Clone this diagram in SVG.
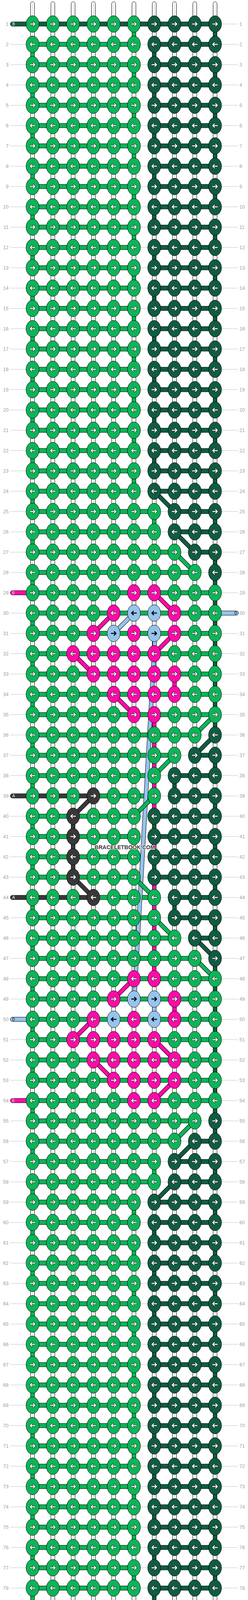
<svg xmlns="http://www.w3.org/2000/svg" width="636" height="4336" viewBox="0 0 636 4336">
<style>
.kL{fill:#0cb458;stroke:#000;stroke-width:1}
.kD{fill:#105c40;stroke:#000;stroke-width:1}
.kP{fill:#fe0aa8;stroke:#000;stroke-width:1}
.kB{fill:#96c4ec;stroke:#000;stroke-width:1}
.kG{fill:#383838;stroke:#000;stroke-width:1}
.ao{fill:none;stroke:#1a1a1a;stroke-width:4.2;stroke-linecap:round;stroke-linejoin:round}
.aw{fill:none;stroke:#fff;stroke-width:2.4;stroke-linecap:round;stroke-linejoin:round}
.ab{fill:none;stroke:#000;stroke-width:2.6;stroke-linecap:round;stroke-linejoin:round}
.cL{fill:#0cb458;stroke:#000;stroke-width:1}
.cD{fill:#105c40;stroke:#000;stroke-width:1}
.cP{fill:#fe0aa8;stroke:#000;stroke-width:1}
.cB{fill:#96c4ec;stroke:#000;stroke-width:1}
.cG{fill:#383838;stroke:#000;stroke-width:1}
.wp rect{fill:#fff;stroke:#000;stroke-width:1}
.do{fill:none;stroke:#000;stroke-width:11}
.sL{fill:none;stroke:#0cb458;stroke-width:9}
.sD{fill:none;stroke:#105c40;stroke-width:9}
.sP{fill:none;stroke:#fe0aa8;stroke-width:9}
.sB{fill:none;stroke:#96c4ec;stroke-width:9}
.sG{fill:none;stroke:#383838;stroke-width:9}
.lb{font-family:"Liberation Sans",Arial,sans-serif;font-size:12.5px;fill:#a0a0a0;text-anchor:end}
.rb{font-family:"Liberation Sans",Arial,sans-serif;font-size:12.5px;fill:#a0a0a0;text-anchor:start}
.sl{font-family:"Liberation Sans",Arial,sans-serif;font-size:10px;fill:#fff}
.sd{font-family:"Liberation Sans",Arial,sans-serif;font-size:10px;fill:#000}
.wm{font-family:"Liberation Sans",Arial,sans-serif;font-size:14px;font-weight:bold;fill:#3a3a3a;stroke:#fff;stroke-width:2.2;paint-order:stroke;text-anchor:middle}
</style>
<defs>
<path id="ar" d="M-6 0H5.5M1.5-4.5L6 0L1.5 4.5"/>
<path id="al" d="M6 0H-5.5M-1.5-4.5L-6 0L-1.5 4.5"/>
<ellipse id="e" rx="16.6" ry="21.2"/>
<g id="LR"><use href="#e" class="kL"/><use href="#ar" class="ao"/><use href="#ar" class="aw"/></g>
<g id="LL"><use href="#e" class="kL"/><use href="#al" class="ao"/><use href="#al" class="aw"/></g>
<g id="DR"><use href="#e" class="kD"/><use href="#ar" class="ao"/><use href="#ar" class="aw"/></g>
<g id="DL"><use href="#e" class="kD"/><use href="#al" class="ao"/><use href="#al" class="aw"/></g>
<g id="PR"><use href="#e" class="kP"/><use href="#ar" class="ao"/><use href="#ar" class="aw"/></g>
<g id="PL"><use href="#e" class="kP"/><use href="#al" class="ao"/><use href="#al" class="aw"/></g>
<g id="GR"><use href="#e" class="kG"/><use href="#ar" class="ao"/><use href="#ar" class="aw"/></g>
<g id="GL"><use href="#e" class="kG"/><use href="#al" class="ao"/><use href="#al" class="aw"/></g>
<g id="BR"><use href="#e" class="kB"/><use href="#ar" class="ab"/></g>
<g id="BL"><use href="#e" class="kB"/><use href="#al" class="ab"/></g>
<g id="kro"><use href="#LR" x="83.5"/><use href="#LR" x="135.5"/><use href="#LR" x="187.5"/><use href="#LR" x="239.5"/><use href="#LR" x="291.5"/><use href="#LR" x="343.5"/><use href="#DR" x="395.5"/><use href="#DR" x="447.5"/><use href="#DR" x="499.5"/><use href="#DR" x="551.5"/></g>
<g id="kre"><use href="#LL" x="83.5"/><use href="#LL" x="135.5"/><use href="#LL" x="187.5"/><use href="#LL" x="239.5"/><use href="#LL" x="291.5"/><use href="#LL" x="343.5"/><use href="#DL" x="395.5"/><use href="#DL" x="447.5"/><use href="#DL" x="499.5"/><use href="#DL" x="551.5"/></g>
<g id="k7R"><use href="#LR" x="83.5"/><use href="#LR" x="135.5"/><use href="#LR" x="187.5"/><use href="#LR" x="239.5"/><use href="#LR" x="291.5"/><use href="#LR" x="343.5"/><use href="#LR" x="395.5"/><use href="#DR" x="447.5"/><use href="#DR" x="499.5"/><use href="#DR" x="551.5"/></g>
<g id="k7L"><use href="#LL" x="83.5"/><use href="#LL" x="135.5"/><use href="#LL" x="187.5"/><use href="#LL" x="239.5"/><use href="#LL" x="291.5"/><use href="#LL" x="343.5"/><use href="#LL" x="395.5"/><use href="#DL" x="447.5"/><use href="#DL" x="499.5"/><use href="#DL" x="551.5"/></g>
<g id="k8R"><use href="#LR" x="83.5"/><use href="#LR" x="135.5"/><use href="#LR" x="187.5"/><use href="#LR" x="239.5"/><use href="#LR" x="291.5"/><use href="#LR" x="343.5"/><use href="#LR" x="395.5"/><use href="#LR" x="447.5"/><use href="#DR" x="499.5"/><use href="#DR" x="551.5"/></g>
<g id="k8L"><use href="#LL" x="83.5"/><use href="#LL" x="135.5"/><use href="#LL" x="187.5"/><use href="#LL" x="239.5"/><use href="#LL" x="291.5"/><use href="#LL" x="343.5"/><use href="#LL" x="395.5"/><use href="#LL" x="447.5"/><use href="#DL" x="499.5"/><use href="#DL" x="551.5"/></g>
<g id="k9R"><use href="#LR" x="83.5"/><use href="#LR" x="135.5"/><use href="#LR" x="187.5"/><use href="#LR" x="239.5"/><use href="#LR" x="291.5"/><use href="#LR" x="343.5"/><use href="#LR" x="395.5"/><use href="#LR" x="447.5"/><use href="#LR" x="499.5"/><use href="#DR" x="551.5"/></g>
<g id="k9L"><use href="#LL" x="83.5"/><use href="#LL" x="135.5"/><use href="#LL" x="187.5"/><use href="#LL" x="239.5"/><use href="#LL" x="291.5"/><use href="#LL" x="343.5"/><use href="#LL" x="395.5"/><use href="#LL" x="447.5"/><use href="#LL" x="499.5"/><use href="#DL" x="551.5"/></g>
<g id="kGR"><use href="#LR" x="83.5"/><use href="#LR" x="135.5"/><use href="#GR" x="187.5"/><use href="#LR" x="239.5"/><use href="#LR" x="291.5"/><use href="#LR" x="343.5"/><use href="#DR" x="395.5"/><use href="#DR" x="447.5"/><use href="#DR" x="499.5"/><use href="#DR" x="551.5"/></g>
<g id="kGL"><use href="#LL" x="83.5"/><use href="#LL" x="135.5"/><use href="#GL" x="187.5"/><use href="#LL" x="239.5"/><use href="#LL" x="291.5"/><use href="#LL" x="343.5"/><use href="#DL" x="395.5"/><use href="#DL" x="447.5"/><use href="#DL" x="499.5"/><use href="#DL" x="551.5"/></g>
<g id="kPR"><use href="#LR" x="83.5"/><use href="#LR" x="135.5"/><use href="#LR" x="187.5"/><use href="#LR" x="239.5"/><use href="#LR" x="291.5"/><use href="#PR" x="343.5"/><use href="#PR" x="395.5"/><use href="#LR" x="447.5"/><use href="#LR" x="499.5"/><use href="#LR" x="551.5"/></g>
<g id="kPL"><use href="#LL" x="83.5"/><use href="#LL" x="135.5"/><use href="#LL" x="187.5"/><use href="#LL" x="239.5"/><use href="#LL" x="291.5"/><use href="#PL" x="343.5"/><use href="#PL" x="395.5"/><use href="#LL" x="447.5"/><use href="#LL" x="499.5"/><use href="#LL" x="551.5"/></g>
<g id="h5"><rect x="83.5" y="-5.5" width="260" height="11" class="cL"/><rect x="395.5" y="-5.5" width="156" height="11" class="cD"/></g>
<g id="h6"><rect x="83.5" y="-5.5" width="312" height="11" class="cL"/><rect x="447.5" y="-5.5" width="104" height="11" class="cD"/></g>
<g id="h7"><rect x="83.5" y="-5.5" width="364" height="11" class="cL"/><rect x="499.5" y="-5.5" width="52" height="11" class="cD"/></g>
<g id="h8"><rect x="83.5" y="-5.5" width="416" height="11" class="cL"/></g>
<g id="hL"><rect x="83.5" y="-5.5" width="468" height="11" class="cL"/></g>
<g id="hB"><rect x="26.5" y="-5.5" width="525" height="11" rx="5.5" class="cD"/></g>
<g id="hG"><rect x="26.5" y="-5.5" width="213" height="11" rx="5.5" class="cG"/><rect x="239.5" y="-5.5" width="156" height="11" class="cL"/><rect x="447.5" y="-5.5" width="104" height="11" class="cD"/></g>
<rect id="v1L" x="78.5" width="10" height="52" class="cL"/>
<rect id="v6L" x="338.5" width="10" height="52" class="cL"/>
<rect id="v7L" x="390.5" width="10" height="52" class="cL"/>
<rect id="v7D" x="390.5" width="10" height="52" class="cD"/>
<rect id="v7P" x="390.5" width="10" height="52" class="cP"/>
<rect id="v7B" x="390.5" width="10" height="52" class="cB"/>
<rect id="v8D" x="442.5" width="10" height="52" class="cD"/>
<rect id="v8P" x="442.5" width="10" height="52" class="cP"/>
<rect id="v3G" x="182.5" width="10" height="52" class="cG"/>
<rect id="v10D" x="546.5" width="10" height="52" class="cD"/>
<g id="vo"><use href="#v6L"/><use href="#v10D"/></g>
<g id="ve"><use href="#v1L"/><use href="#v7D"/></g>
<path id="dgD" d="M395.5 1257.5L447.5 1309.5M447.5 1361.5L499.5 1413.5M551.5 1881.5L499.5 1933.5M499.5 2401.5L551.5 2453.5M499.5 2921.5L447.5 2973.5M447.5 3025.5L395.5 3077.5"/>
<path id="dgL" d="M447.5 1413.5L499.5 1465.5M551.5 1829.5L499.5 1881.5M447.5 1933.5L395.5 1985.5M395.5 2037.5L343.5 2089.5M343.5 2245.5L395.5 2297.5M395.5 2349.5L447.5 2401.5M499.5 2453.5L551.5 2505.5M499.5 2869.5L447.5 2921.5"/>
<path id="dgP" d="M395.5 1517.5L447.5 1569.5M291.5 1569.5L239.5 1621.5M447.5 1621.5L395.5 1673.5M187.5 1673.5L239.5 1725.5M291.5 1777.5L343.5 1829.5M343.5 2505.5L291.5 2557.5M239.5 2609.5L187.5 2661.5M395.5 2661.5L447.5 2713.5M239.5 2713.5L291.5 2765.5M447.5 2765.5L395.5 2817.5"/>
<path id="dgB" d="M343.5 1569.5L291.5 1621.5"/>
<path id="dgG" d="M239.5 2037.5L187.5 2089.5M187.5 2245.5L239.5 2297.5"/>
<path id="bandp" d="M398 1622L344.5 2556"/>
</defs>
<rect width="636" height="4336" fill="#fff"/>
<g id="guides">
<path fill="none" stroke="#c4c4c4" stroke-width="1" d="M26.5 61.5h583.5m-583.5 52h583.5m-583.5 52h583.5m-583.5 52h583.5m-583.5 52h583.5m-583.5 52h583.5m-583.5 52h583.5m-583.5 52h583.5m-583.5 52h583.5m-583.5 52h583.5
m-583.5 52h583.5m-583.5 52h583.5m-583.5 52h583.5m-583.5 52h583.5m-583.5 52h583.5m-583.5 52h583.5m-583.5 52h583.5m-583.5 52h583.5m-583.5 52h583.5m-583.5 52h583.5
m-583.5 52h583.5m-583.5 52h583.5m-583.5 52h583.5m-583.5 52h583.5m-583.5 52h583.5m-583.5 52h583.5m-583.5 52h583.5m-583.5 52h583.5m-583.5 52h583.5m-583.5 52h583.5
m-583.5 52h583.5m-583.5 52h583.5m-583.5 52h583.5m-583.5 52h583.5m-583.5 52h583.5m-583.5 52h583.5m-583.5 52h583.5m-583.5 52h583.5m-583.5 52h583.5m-583.5 52h583.5
m-583.5 52h583.5m-583.5 52h583.5m-583.5 52h583.5m-583.5 52h583.5m-583.5 52h583.5m-583.5 52h583.5m-583.5 52h583.5m-583.5 52h583.5m-583.5 52h583.5m-583.5 52h583.5
m-583.5 52h583.5m-583.5 52h583.5m-583.5 52h583.5m-583.5 52h583.5m-583.5 52h583.5m-583.5 52h583.5m-583.5 52h583.5m-583.5 52h583.5m-583.5 52h583.5m-583.5 52h583.5
m-583.5 52h583.5m-583.5 52h583.5m-583.5 52h583.5m-583.5 52h583.5m-583.5 52h583.5m-583.5 52h583.5m-583.5 52h583.5m-583.5 52h583.5m-583.5 52h583.5m-583.5 52h583.5
m-583.5 52h583.5m-583.5 52h583.5m-583.5 52h583.5m-583.5 52h583.5m-583.5 52h583.5m-583.5 52h583.5m-583.5 52h583.5m-583.5 52h583.5m-583.5 52h583.5m-583.5 52h583.5
m-583.5 52h583.5"/>
<g class="lb">
<text x="22" y="66">1</text><text x="22" y="118">2</text><text x="22" y="170">3</text><text x="22" y="222">4</text><text x="22" y="274">5</text><text x="22" y="326">6</text><text x="22" y="378">7</text><text x="22" y="430">8</text><text x="22" y="482">9</text><text x="22" y="534">10</text>
<text x="22" y="586">11</text><text x="22" y="638">12</text><text x="22" y="690">13</text><text x="22" y="742">14</text><text x="22" y="794">15</text><text x="22" y="846">16</text><text x="22" y="898">17</text><text x="22" y="950">18</text><text x="22" y="1002">19</text><text x="22" y="1054">20</text>
<text x="22" y="1106">21</text><text x="22" y="1158">22</text><text x="22" y="1210">23</text><text x="22" y="1262">24</text><text x="22" y="1314">25</text><text x="22" y="1366">26</text><text x="22" y="1418">27</text><text x="22" y="1470">28</text><text x="22" y="1522">29</text><text x="22" y="1574">30</text>
<text x="22" y="1626">31</text><text x="22" y="1678">32</text><text x="22" y="1730">33</text><text x="22" y="1782">34</text><text x="22" y="1834">35</text><text x="22" y="1886">36</text><text x="22" y="1938">37</text><text x="22" y="1990">38</text><text x="22" y="2042">39</text><text x="22" y="2094">40</text>
<text x="22" y="2146">41</text><text x="22" y="2198">42</text><text x="22" y="2250">43</text><text x="22" y="2302">44</text><text x="22" y="2354">45</text><text x="22" y="2406">46</text><text x="22" y="2458">47</text><text x="22" y="2510">48</text><text x="22" y="2562">49</text><text x="22" y="2614">50</text>
<text x="22" y="2666">51</text><text x="22" y="2718">52</text><text x="22" y="2770">53</text><text x="22" y="2822">54</text><text x="22" y="2874">55</text><text x="22" y="2926">56</text><text x="22" y="2978">57</text><text x="22" y="3030">58</text><text x="22" y="3082">59</text><text x="22" y="3134">60</text>
<text x="22" y="3186">61</text><text x="22" y="3238">62</text><text x="22" y="3290">63</text><text x="22" y="3342">64</text><text x="22" y="3394">65</text><text x="22" y="3446">66</text><text x="22" y="3498">67</text><text x="22" y="3550">68</text><text x="22" y="3602">69</text><text x="22" y="3654">70</text>
<text x="22" y="3706">71</text><text x="22" y="3758">72</text><text x="22" y="3810">73</text><text x="22" y="3862">74</text><text x="22" y="3914">75</text><text x="22" y="3966">76</text><text x="22" y="4018">77</text><text x="22" y="4070">78</text><text x="22" y="4122">79</text><text x="22" y="4174">80</text>
<text x="22" y="4226">81</text><text x="22" y="4278">82</text>
</g>
<g class="rb">
<text x="614" y="66">1</text><text x="614" y="118">2</text><text x="614" y="170">3</text><text x="614" y="222">4</text><text x="614" y="274">5</text><text x="614" y="326">6</text><text x="614" y="378">7</text><text x="614" y="430">8</text><text x="614" y="482">9</text><text x="614" y="534">10</text>
<text x="614" y="586">11</text><text x="614" y="638">12</text><text x="614" y="690">13</text><text x="614" y="742">14</text><text x="614" y="794">15</text><text x="614" y="846">16</text><text x="614" y="898">17</text><text x="614" y="950">18</text><text x="614" y="1002">19</text><text x="614" y="1054">20</text>
<text x="614" y="1106">21</text><text x="614" y="1158">22</text><text x="614" y="1210">23</text><text x="614" y="1262">24</text><text x="614" y="1314">25</text><text x="614" y="1366">26</text><text x="614" y="1418">27</text><text x="614" y="1470">28</text><text x="614" y="1522">29</text><text x="614" y="1574">30</text>
<text x="614" y="1626">31</text><text x="614" y="1678">32</text><text x="614" y="1730">33</text><text x="614" y="1782">34</text><text x="614" y="1834">35</text><text x="614" y="1886">36</text><text x="614" y="1938">37</text><text x="614" y="1990">38</text><text x="614" y="2042">39</text><text x="614" y="2094">40</text>
<text x="614" y="2146">41</text><text x="614" y="2198">42</text><text x="614" y="2250">43</text><text x="614" y="2302">44</text><text x="614" y="2354">45</text><text x="614" y="2406">46</text><text x="614" y="2458">47</text><text x="614" y="2510">48</text><text x="614" y="2562">49</text><text x="614" y="2614">50</text>
<text x="614" y="2666">51</text><text x="614" y="2718">52</text><text x="614" y="2770">53</text><text x="614" y="2822">54</text><text x="614" y="2874">55</text><text x="614" y="2926">56</text><text x="614" y="2978">57</text><text x="614" y="3030">58</text><text x="614" y="3082">59</text><text x="614" y="3134">60</text>
<text x="614" y="3186">61</text><text x="614" y="3238">62</text><text x="614" y="3290">63</text><text x="614" y="3342">64</text><text x="614" y="3394">65</text><text x="614" y="3446">66</text><text x="614" y="3498">67</text><text x="614" y="3550">68</text><text x="614" y="3602">69</text><text x="614" y="3654">70</text>
<text x="614" y="3706">71</text><text x="614" y="3758">72</text><text x="614" y="3810">73</text><text x="614" y="3862">74</text><text x="614" y="3914">75</text><text x="614" y="3966">76</text><text x="614" y="4018">77</text><text x="614" y="4070">78</text><text x="614" y="4122">79</text><text x="614" y="4174">80</text>
<text x="614" y="4226">81</text><text x="614" y="4278">82</text>
</g>
</g>
<g id="warps" class="wp">
<rect x="78.5" y="4.5" width="10" height="4327" rx="5"/><rect x="130.5" y="4.5" width="10" height="4327" rx="5"/><rect x="182.5" y="4.5" width="10" height="4327" rx="5"/><rect x="234.5" y="4.5" width="10" height="4327" rx="5"/><rect x="286.5" y="4.5" width="10" height="4327" rx="5"/><rect x="338.5" y="4.5" width="10" height="4327" rx="5"/><rect x="390.5" y="4.5" width="10" height="4327" rx="5"/><rect x="442.5" y="4.5" width="10" height="4327" rx="5"/><rect x="494.5" y="4.5" width="10" height="4327" rx="5"/><rect x="546.5" y="4.5" width="10" height="4327" rx="5"/>
<path fill="none" stroke="#c8c8c8" stroke-width="1.2" d="M84 9V4327M136 9V4327M188 9V4327M240 9V4327M292 9V4327M344 9V4327M396 9V4327M448 9V4327M500 9V4327M552 9V4327"/>
</g>
<g id="connectors">
<g id="verticals">
<use href="#vo" y="61.5"/><use href="#ve" y="113.5"/><use href="#vo" y="165.5"/><use href="#ve" y="217.5"/><use href="#vo" y="269.5"/><use href="#ve" y="321.5"/><use href="#vo" y="373.5"/><use href="#ve" y="425.5"/><use href="#vo" y="477.5"/><use href="#ve" y="529.5"/><use href="#vo" y="581.5"/><use href="#ve" y="633.5"/><use href="#vo" y="685.5"/><use href="#ve" y="737.5"/><use href="#vo" y="789.5"/><use href="#ve" y="841.5"/><use href="#vo" y="893.5"/><use href="#ve" y="945.5"/><use href="#vo" y="997.5"/><use href="#ve" y="1049.5"/><use href="#vo" y="1101.5"/><use href="#ve" y="1153.5"/><use href="#vo" y="1205.5"/>
<use href="#v1L" y="1257.5"/>
<use href="#v7L" y="1309.5"/><use href="#v10D" y="1309.5"/>
<use href="#v1L" y="1361.5"/>
<use href="#v10D" y="1413.5"/>
<use href="#v1L" y="1465.5"/><use href="#v10D" y="1465.5"/>
<use href="#v10D" y="1517.5"/>
<use href="#v1L" y="1569.5"/><use href="#v10D" y="1569.5"/>
<use href="#v10D" y="1621.5"/>
<use href="#v1L" y="1673.5"/><use href="#v10D" y="1673.5"/>
<use href="#v8P" y="1725.5"/><use href="#v10D" y="1725.5"/>
<use href="#v1L" y="1777.5"/><use href="#v10D" y="1777.5"/>
<use href="#v7P" y="1829.5"/><use href="#v10D" y="1829.5"/>
<use href="#v1L" y="1881.5"/><use href="#v7P" y="1881.5"/>
<use href="#v7P" y="1933.5"/><use href="#v10D" y="1933.5"/>
<use href="#v1L" y="1985.5"/><use href="#v7P" y="1985.5"/><use href="#v8D" y="1985.5"/>
<use href="#v7P" y="2037.5"/><use href="#v10D" y="2037.5"/>
<use href="#v1L" y="2089.5"/><use href="#v3G" y="2089.5"/><use href="#v7D" y="2089.5"/>
<use href="#v3G" y="2141.5"/><use href="#v7P" y="2141.5"/><use href="#v10D" y="2141.5"/>
<use href="#v1L" y="2193.5"/><use href="#v3G" y="2193.5"/><use href="#v7D" y="2193.5"/>
<use href="#v7P" y="2245.5"/><use href="#v10D" y="2245.5"/>
<use href="#v1L" y="2297.5"/><use href="#v7P" y="2297.5"/><use href="#v8D" y="2297.5"/>
<use href="#v7P" y="2349.5"/><use href="#v10D" y="2349.5"/>
<use href="#v1L" y="2401.5"/><use href="#v7P" y="2401.5"/>
<use href="#v7P" y="2453.5"/><use href="#v10D" y="2453.5"/>
<use href="#v1L" y="2505.5"/><use href="#v10D" y="2505.5"/>
<use href="#v7B" y="2557.5"/><use href="#v8P" y="2557.5"/><use href="#v10D" y="2557.5"/>
<use href="#v1L" y="2609.5"/><use href="#v10D" y="2609.5"/>
<use href="#v10D" y="2661.5"/>
<use href="#v1L" y="2713.5"/><use href="#v10D" y="2713.5"/>
<use href="#v10D" y="2765.5"/>
<use href="#v1L" y="2817.5"/><use href="#v10D" y="2817.5"/>
<use href="#v10D" y="2869.5"/>
<use href="#v1L" y="2921.5"/>
<use href="#v7L" y="2973.5"/><use href="#v10D" y="2973.5"/>
<use href="#v1L" y="3025.5"/>
<use href="#vo" y="3077.5"/><use href="#ve" y="3129.5"/><use href="#vo" y="3181.5"/><use href="#ve" y="3233.5"/><use href="#vo" y="3285.5"/><use href="#ve" y="3337.5"/><use href="#vo" y="3389.5"/><use href="#ve" y="3441.5"/><use href="#vo" y="3493.5"/><use href="#ve" y="3545.5"/><use href="#vo" y="3597.5"/><use href="#ve" y="3649.5"/><use href="#vo" y="3701.5"/><use href="#ve" y="3753.5"/><use href="#vo" y="3805.5"/><use href="#ve" y="3857.5"/><use href="#vo" y="3909.5"/><use href="#ve" y="3961.5"/><use href="#vo" y="4013.5"/><use href="#ve" y="4065.5"/><use href="#vo" y="4117.5"/><use href="#ve" y="4169.5"/><use href="#vo" y="4221.5"/>
</g>
<g id="horizontals">
<use href="#hB" y="61.5"/>
<use href="#h5" y="113.5"/><use href="#h5" y="165.5"/><use href="#h5" y="217.5"/><use href="#h5" y="269.5"/><use href="#h5" y="321.5"/><use href="#h5" y="373.5"/><use href="#h5" y="425.5"/><use href="#h5" y="477.5"/><use href="#h5" y="529.5"/><use href="#h5" y="581.5"/><use href="#h5" y="633.5"/><use href="#h5" y="685.5"/><use href="#h5" y="737.5"/><use href="#h5" y="789.5"/><use href="#h5" y="841.5"/><use href="#h5" y="893.5"/><use href="#h5" y="945.5"/><use href="#h5" y="997.5"/><use href="#h5" y="1049.5"/><use href="#h5" y="1101.5"/><use href="#h5" y="1153.5"/><use href="#h5" y="1205.5"/><use href="#h5" y="1257.5"/>
<use href="#h6" y="1309.5"/><use href="#h6" y="1361.5"/><use href="#h7" y="1413.5"/><use href="#h8" y="1465.5"/>
<use href="#hL" y="1517.5"/><use href="#hL" y="1569.5"/><use href="#hL" y="1621.5"/><use href="#hL" y="1673.5"/><use href="#hL" y="1725.5"/><use href="#hL" y="1777.5"/><use href="#hL" y="1829.5"/>
<use href="#h8" y="1881.5"/><use href="#h7" y="1933.5"/><use href="#h6" y="1985.5"/><use href="#hG" y="2037.5"/>
<use href="#h5" y="2089.5"/><use href="#h5" y="2141.5"/><use href="#h5" y="2193.5"/><use href="#h5" y="2245.5"/>
<use href="#hG" y="2297.5"/><use href="#h6" y="2349.5"/><use href="#h7" y="2401.5"/><use href="#h8" y="2453.5"/>
<use href="#hL" y="2505.5"/><use href="#hL" y="2557.5"/><use href="#hL" y="2609.5"/><use href="#hL" y="2661.5"/><use href="#hL" y="2713.5"/><use href="#hL" y="2765.5"/><use href="#hL" y="2817.5"/>
<use href="#h8" y="2869.5"/><use href="#h7" y="2921.5"/><use href="#h6" y="2973.5"/><use href="#h6" y="3025.5"/>
<use href="#h5" y="3077.5"/><use href="#h5" y="3129.5"/><use href="#h5" y="3181.5"/><use href="#h5" y="3233.5"/><use href="#h5" y="3285.5"/><use href="#h5" y="3337.5"/><use href="#h5" y="3389.5"/><use href="#h5" y="3441.5"/><use href="#h5" y="3493.5"/><use href="#h5" y="3545.5"/><use href="#h5" y="3597.5"/><use href="#h5" y="3649.5"/><use href="#h5" y="3701.5"/><use href="#h5" y="3753.5"/><use href="#h5" y="3805.5"/><use href="#h5" y="3857.5"/><use href="#h5" y="3909.5"/><use href="#h5" y="3961.5"/><use href="#h5" y="4013.5"/><use href="#h5" y="4065.5"/><use href="#h5" y="4117.5"/><use href="#h5" y="4169.5"/><use href="#h5" y="4221.5"/>
<use href="#hB" y="4273.5"/>
</g>
<g id="band"><use href="#bandp" class="do"/><use href="#bandp" class="sB"/></g>
<g id="diagonals">
<use href="#dgD" class="do"/><use href="#dgD" class="sD"/>
<use href="#dgL" class="do"/><use href="#dgL" class="sL"/>
<use href="#dgP" class="do"/><use href="#dgP" class="sP"/>
<use href="#dgB" class="do"/><use href="#dgB" class="sB"/>
<use href="#dgG" class="do"/><use href="#dgG" class="sG"/>
</g>
<g id="stubs">
<rect x="26.5" y="1512" width="57" height="11" rx="5.5" class="cP"/>
<rect x="551.5" y="1564" width="60" height="11" rx="5.5" class="cB"/>
<rect x="26.5" y="2604" width="57" height="11" rx="5.5" class="cB"/>
<rect x="26.5" y="2812" width="57" height="11" rx="5.5" class="cP"/>
<text class="sl" x="31.5" y="65.2">B</text>
<text class="sl" x="31.5" y="1521.2">E</text>
<text class="sd" x="601" y="1573.2">D</text>
<text class="sl" x="31.5" y="2041.2">A</text>
<text class="sl" x="31.5" y="2301.2">A</text>
<text class="sd" x="31" y="2613.2">D</text>
<text class="sl" x="31.5" y="2821.2">E</text>
<text class="sl" x="31.5" y="4277.2">B</text>
</g>
</g>
<g id="knots">
<use id="row-1" href="#kro" y="61.5"/><use id="row-2" href="#kre" y="113.5"/><use id="row-3" href="#kro" y="165.5"/><use id="row-4" href="#kre" y="217.5"/><use id="row-5" href="#kro" y="269.5"/><use id="row-6" href="#kre" y="321.5"/><use id="row-7" href="#kro" y="373.5"/><use id="row-8" href="#kre" y="425.5"/><use id="row-9" href="#kro" y="477.5"/><use id="row-10" href="#kre" y="529.5"/>
<use id="row-11" href="#kro" y="581.5"/><use id="row-12" href="#kre" y="633.5"/><use id="row-13" href="#kro" y="685.5"/><use id="row-14" href="#kre" y="737.5"/><use id="row-15" href="#kro" y="789.5"/><use id="row-16" href="#kre" y="841.5"/><use id="row-17" href="#kro" y="893.5"/><use id="row-18" href="#kre" y="945.5"/><use id="row-19" href="#kro" y="997.5"/><use id="row-20" href="#kre" y="1049.5"/>
<use id="row-21" href="#kro" y="1101.5"/><use id="row-22" href="#kre" y="1153.5"/><use id="row-23" href="#kro" y="1205.5"/><use id="row-24" href="#kre" y="1257.5"/>
<use id="row-25" href="#k7R" y="1309.5"/><use id="row-26" href="#k7L" y="1361.5"/><use id="row-27" href="#k8R" y="1413.5"/><use id="row-28" href="#k9L" y="1465.5"/>
<use id="row-29" href="#kPR" y="1517.5"/>
<g id="row-30" transform="translate(0 1569.5)"><use href="#LL" x="83.5"/><use href="#LL" x="135.5"/><use href="#LL" x="187.5"/><use href="#LL" x="239.5"/><use href="#PL" x="291.5"/><use href="#BL" x="343.5"/><use href="#BL" x="395.5"/><use href="#PL" x="447.5"/><use href="#LL" x="499.5"/><use href="#LL" x="551.5"/></g>
<g id="row-31" transform="translate(0 1621.5)"><use href="#LR" x="83.5"/><use href="#LR" x="135.5"/><use href="#LR" x="187.5"/><use href="#PR" x="239.5"/><use href="#BR" x="291.5"/><use href="#PR" x="343.5"/><use href="#BR" x="395.5"/><use href="#PR" x="447.5"/><use href="#LR" x="499.5"/><use href="#LR" x="551.5"/></g>
<g id="row-32" transform="translate(0 1673.5)"><use href="#LL" x="83.5"/><use href="#LL" x="135.5"/><use href="#PL" x="187.5"/><use href="#PL" x="239.5"/><use href="#PL" x="291.5"/><use href="#PL" x="343.5"/><use href="#PL" x="395.5"/><use href="#LL" x="447.5"/><use href="#LL" x="499.5"/><use href="#LL" x="551.5"/></g>
<g id="row-33" transform="translate(0 1725.5)"><use href="#LR" x="83.5"/><use href="#LR" x="135.5"/><use href="#LR" x="187.5"/><use href="#PR" x="239.5"/><use href="#PR" x="291.5"/><use href="#PR" x="343.5"/><use href="#PR" x="395.5"/><use href="#PR" x="447.5"/><use href="#LR" x="499.5"/><use href="#LR" x="551.5"/></g>
<g id="row-34" transform="translate(0 1777.5)"><use href="#LL" x="83.5"/><use href="#LL" x="135.5"/><use href="#LL" x="187.5"/><use href="#LL" x="239.5"/><use href="#PL" x="291.5"/><use href="#PL" x="343.5"/><use href="#PL" x="395.5"/><use href="#PL" x="447.5"/><use href="#LL" x="499.5"/><use href="#LL" x="551.5"/></g>
<use id="row-35" href="#kPR" y="1829.5"/>
<use id="row-36" href="#k9L" y="1881.5"/><use id="row-37" href="#k8R" y="1933.5"/><use id="row-38" href="#k7L" y="1985.5"/>
<g id="row-39" transform="translate(0 2037.5)"><use href="#LR" x="83.5"/><use href="#LR" x="135.5"/><use href="#LR" x="187.5"/><use href="#GR" x="239.5"/><use href="#LR" x="291.5"/><use href="#LR" x="343.5"/><use href="#LR" x="395.5"/><use href="#DR" x="447.5"/><use href="#DR" x="499.5"/><use href="#DR" x="551.5"/></g>
<use id="row-40" href="#kGL" y="2089.5"/><use id="row-41" href="#kGR" y="2141.5"/><use id="row-42" href="#kGL" y="2193.5"/><use id="row-43" href="#kGR" y="2245.5"/>
<g id="row-44" transform="translate(0 2297.5)"><use href="#LL" x="83.5"/><use href="#LL" x="135.5"/><use href="#LL" x="187.5"/><use href="#GL" x="239.5"/><use href="#LL" x="291.5"/><use href="#LL" x="343.5"/><use href="#LL" x="395.5"/><use href="#DL" x="447.5"/><use href="#DL" x="499.5"/><use href="#DL" x="551.5"/></g>
<use id="row-45" href="#k7R" y="2349.5"/><use id="row-46" href="#k8L" y="2401.5"/><use id="row-47" href="#k9R" y="2453.5"/>
<use id="row-48" href="#kPL" y="2505.5"/>
<g id="row-49" transform="translate(0 2557.5)"><use href="#LR" x="83.5"/><use href="#LR" x="135.5"/><use href="#LR" x="187.5"/><use href="#LR" x="239.5"/><use href="#PR" x="291.5"/><use href="#BR" x="343.5"/><use href="#BR" x="395.5"/><use href="#PR" x="447.5"/><use href="#LR" x="499.5"/><use href="#LR" x="551.5"/></g>
<g id="row-50" transform="translate(0 2609.5)"><use href="#LL" x="83.5"/><use href="#LL" x="135.5"/><use href="#LL" x="187.5"/><use href="#PL" x="239.5"/><use href="#BL" x="291.5"/><use href="#PL" x="343.5"/><use href="#BL" x="395.5"/><use href="#PL" x="447.5"/><use href="#LL" x="499.5"/><use href="#LL" x="551.5"/></g>
<g id="row-51" transform="translate(0 2661.5)"><use href="#LR" x="83.5"/><use href="#LR" x="135.5"/><use href="#PR" x="187.5"/><use href="#PR" x="239.5"/><use href="#PR" x="291.5"/><use href="#PR" x="343.5"/><use href="#PR" x="395.5"/><use href="#LR" x="447.5"/><use href="#LR" x="499.5"/><use href="#LR" x="551.5"/></g>
<g id="row-52" transform="translate(0 2713.5)"><use href="#LL" x="83.5"/><use href="#LL" x="135.5"/><use href="#LL" x="187.5"/><use href="#PL" x="239.5"/><use href="#PL" x="291.5"/><use href="#PL" x="343.5"/><use href="#PL" x="395.5"/><use href="#PL" x="447.5"/><use href="#LL" x="499.5"/><use href="#LL" x="551.5"/></g>
<g id="row-53" transform="translate(0 2765.5)"><use href="#LR" x="83.5"/><use href="#LR" x="135.5"/><use href="#LR" x="187.5"/><use href="#LR" x="239.5"/><use href="#PR" x="291.5"/><use href="#PR" x="343.5"/><use href="#PR" x="395.5"/><use href="#PR" x="447.5"/><use href="#LR" x="499.5"/><use href="#LR" x="551.5"/></g>
<use id="row-54" href="#kPL" y="2817.5"/>
<use id="row-55" href="#k9R" y="2869.5"/><use id="row-56" href="#k8L" y="2921.5"/><use id="row-57" href="#k7R" y="2973.5"/><use id="row-58" href="#k7L" y="3025.5"/>
<use id="row-59" href="#kro" y="3077.5"/><use id="row-60" href="#kre" y="3129.5"/>
<use id="row-61" href="#kro" y="3181.5"/><use id="row-62" href="#kre" y="3233.5"/><use id="row-63" href="#kro" y="3285.5"/><use id="row-64" href="#kre" y="3337.5"/><use id="row-65" href="#kro" y="3389.5"/><use id="row-66" href="#kre" y="3441.5"/><use id="row-67" href="#kro" y="3493.5"/><use id="row-68" href="#kre" y="3545.5"/><use id="row-69" href="#kro" y="3597.5"/><use id="row-70" href="#kre" y="3649.5"/>
<use id="row-71" href="#kro" y="3701.5"/><use id="row-72" href="#kre" y="3753.5"/><use id="row-73" href="#kro" y="3805.5"/><use id="row-74" href="#kre" y="3857.5"/><use id="row-75" href="#kro" y="3909.5"/><use id="row-76" href="#kre" y="3961.5"/><use id="row-77" href="#kro" y="4013.5"/><use id="row-78" href="#kre" y="4065.5"/><use id="row-79" href="#kro" y="4117.5"/><use id="row-80" href="#kre" y="4169.5"/>
<use id="row-81" href="#kro" y="4221.5"/><use id="row-82" href="#kre" y="4273.5"/>
</g>
<text id="watermark" class="wm" x="320" y="2174">BRACELETBOOK.COM</text>
</svg>
